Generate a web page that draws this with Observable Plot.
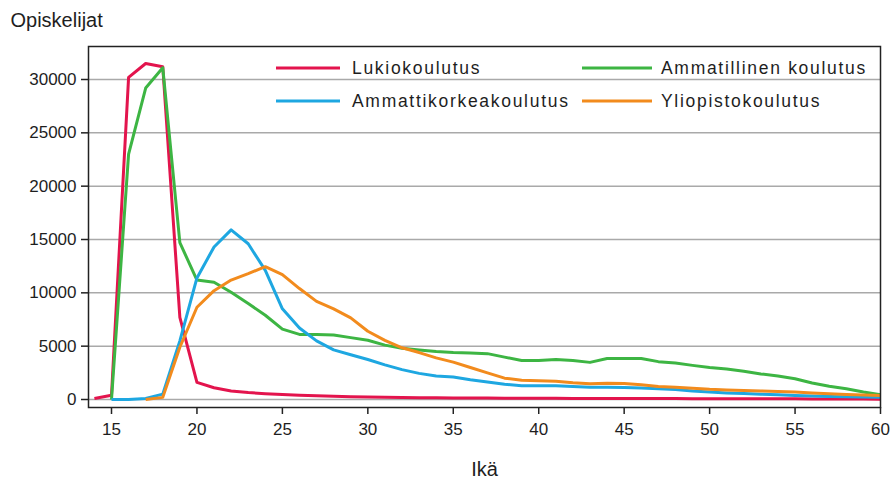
<!DOCTYPE html>
<html>
<head>
<meta charset="utf-8">
<script src="https://cdn.jsdelivr.net/npm/d3@7"></script>
<script src="https://cdn.jsdelivr.net/npm/@observablehq/plot@0.6"></script>
<style>
  html, body { margin: 0; padding: 0; background: #fff; }
  #chart { width: 893px; height: 485px; }
</style>
</head>
<body>
<div id="chart"></div>
<script>
// Ages (x axis)
const ages = d3.range(14, 61);
// Series values, one per age 14..60 (null = no value)
const lukiokoulutus = [100, 400, 30200, 31500, 31200, 7700, 1600, 1100, 800, 650, 550, 470, 400, 350, 310, 260, 230, 210, 190, 175, 160, 150, 140, 130, 125, 120, 115, 110, 105, 100, 100, 95, 90, 90, 85, 80, 80, 75, 70, 70, 65, 60, 55, 50, 45, 40, 35];
const ammatillinen = [null, 0, 23000, 29200, 31100, 14700, 11200, 11000, 10050, 9000, 7900, 6600, 6100, 6100, 6050, 5800, 5550, 5100, 4800, 4650, 4500, 4400, 4350, 4300, 3970, 3650, 3650, 3750, 3650, 3480, 3850, 3850, 3850, 3550, 3420, 3200, 3000, 2850, 2650, 2400, 2200, 1950, 1550, 1250, 1000, 700, 450];
const ammattikorkea = [null, 0, 0, 100, 500, 5500, 11400, 14300, 15900, 14600, 12100, 8500, 6700, 5500, 4650, 4200, 3750, 3250, 2800, 2450, 2200, 2100, 1850, 1650, 1420, 1300, 1300, 1300, 1220, 1150, 1150, 1120, 1080, 1000, 940, 800, 700, 620, 560, 500, 440, 380, 330, 290, 260, 230, 200];
const yliopisto = [null, null, null, 0, 200, 4900, 8650, 10200, 11200, 11800, 12450, 11700, 10400, 9200, 8500, 7650, 6400, 5550, 4850, 4400, 3900, 3500, 3000, 2500, 2000, 1800, 1750, 1700, 1560, 1480, 1520, 1500, 1380, 1220, 1150, 1060, 950, 900, 850, 800, 750, 700, 620, 540, 470, 420, 380];

const seriesNames = ["Lukiokoulutus", "Ammatillinen koulutus", "Ammattikorkeakoulutus", "Yliopistokoulutus"];
const seriesValues = [lukiokoulutus, ammatillinen, ammattikorkea, yliopisto];
const seriesColors = ["#e3144d", "#3db543", "#1ea7e1", "#f28b1d"];

const xTicks = [15, 20, 25, 30, 35, 40, 45, 50, 55, 60];
const yTicks = [0, 5000, 10000, 15000, 20000, 25000, 30000];
const yTitle = "Opiskelijat";
const xTitle = "Ikä";

// Long table for Plot
const rows = [];
seriesNames.forEach((name, s) => {
  ages.forEach((age, i) => rows.push({age, value: seriesValues[s][i], series: name}));
});

const FONT = "'Liberation Sans', Arial, sans-serif";
const TEXT = "#1e1e1e";

const chart = Plot.plot({
  width: 893,
  height: 485,
  marginLeft: 88,
  marginRight: 13,
  marginTop: 46,
  marginBottom: 78,
  style: {fontFamily: FONT, color: TEXT, background: "#fff", overflow: "visible"},
  x: {domain: [13.654, 60], label: null},
  y: {domain: [-750, 33094], label: null},
  color: {domain: seriesNames, range: seriesColors},
  marks: [
    Plot.ruleY(yTicks, {stroke: "#a9a9a9", strokeWidth: 1.5}),
    Plot.line(rows, {x: "age", y: "value", z: "series", stroke: "series", strokeWidth: 3, strokeLinejoin: "round", strokeLinecap: "butt"}),
    Plot.frame({stroke: "#222", strokeWidth: 1.5}),
    Plot.axisY({ticks: yTicks, tickFormat: d3.format("d"), tickSize: 7, tickPadding: 5, fontSize: 17, stroke: "#222", strokeWidth: 1.5, label: null}),
    Plot.axisX({ticks: xTicks, tickFormat: d3.format("d"), tickSize: 7, tickPadding: 8, fontSize: 17, stroke: "#222", strokeWidth: 1.5, label: null}),
    Plot.text([yTitle], {frameAnchor: "top-left", dx: -78, dy: -34, textAnchor: "start", lineAnchor: "top", fontSize: 20, fill: TEXT}),
    Plot.text([xTitle], {frameAnchor: "bottom", dy: 62, lineAnchor: "middle", fontSize: 20, fill: TEXT})
  ]
});

// Legend inside the plot area
const svg = d3.select(chart);
const legend = svg.append("g").attr("font-family", FONT).attr("font-size", 17.5).attr("fill", TEXT)
  .attr("text-anchor", "start");
const colX = [[276, 340, 352], [582, 652, 661]];
const rowY = [68, 101];
seriesNames.forEach((name, i) => {
  const c = colX[i % 2], y = rowY[Math.floor(i / 2)];
  legend.append("line").attr("x1", c[0]).attr("x2", c[1]).attr("y1", y).attr("y2", y)
    .attr("stroke", seriesColors[i]).attr("stroke-width", 3);
  legend.append("text").attr("x", c[2]).attr("y", y).attr("dy", "0.35em")
    .attr("text-anchor", "start").attr("letter-spacing", "1.7px").text(name);
});

document.getElementById("chart").appendChild(chart);
</script>
</body>
</html>
